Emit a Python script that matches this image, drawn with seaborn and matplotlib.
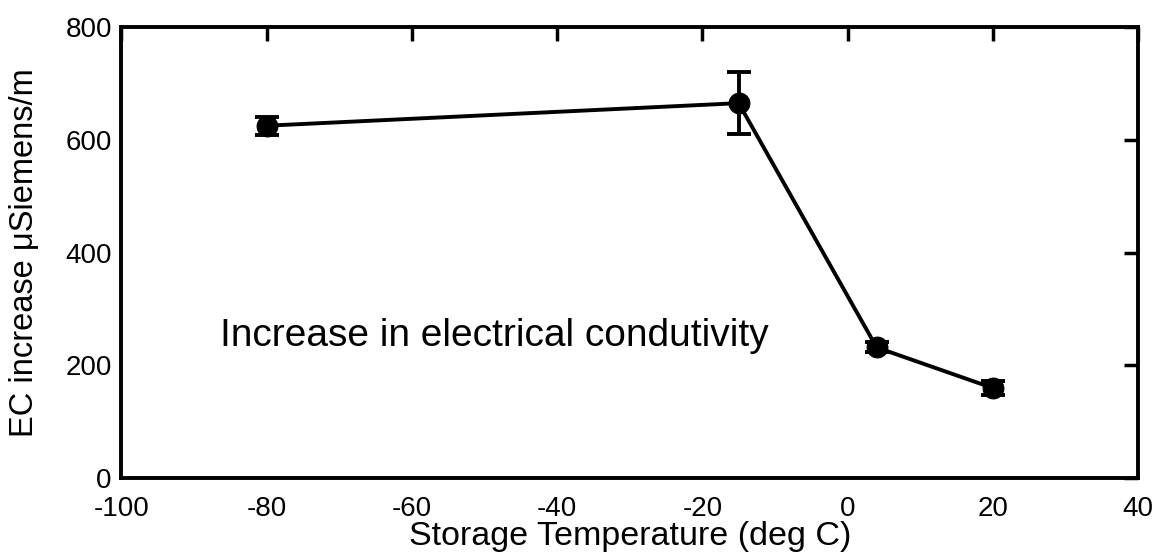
import matplotlib
matplotlib.use("Agg")
import matplotlib.pyplot as plt
import seaborn as sns
import pandas as pd

temps = [-80, -15, 4, 20]
ec_increase = [625, 665, 232, 160]
ec_error = [16, 55, 9, 13]
x_ticks = [-100, -80, -60, -40, -20, 0, 20, 40]
y_ticks = [0, 200, 400, 600, 800]

sns.set_theme(style="white")
plt.rcParams['font.family'] = ['Liberation Sans', 'DejaVu Sans']
plt.rcParams['axes.unicode_minus'] = False

df = pd.DataFrame({"temp": temps, "ec": ec_increase, "err": ec_error})

fig = plt.figure(figsize=(11.57, 5.59), dpi=100)
ax = fig.add_axes([0.105, 0.1444, 0.8786, 0.8073])

ax.errorbar(df["temp"], df["ec"], yerr=df["err"], fmt="none", ecolor="black",
            elinewidth=2.8, capsize=8.5, capthick=2.8, zorder=2)
sns.lineplot(data=df, x="temp", y="ec", ax=ax, color="black", linewidth=2.8,
             marker="o", markersize=15, markeredgecolor="black",
             markerfacecolor="black", zorder=3)

ax.set_xlim(-100, 40)
ax.set_ylim(0, 800)
ax.set_xticks(x_ticks)
ax.set_yticks(y_ticks)
ax.tick_params(direction="in", length=10, width=2.5, top=True, right=True,
               labelsize=20, colors="black", labelcolor="black", pad=7)
ax.tick_params(axis="x", pad=13)
for s in ax.spines.values():
    s.set_linewidth(2.8)
    s.set_color("black")
ax.set_xlabel("Storage Temperature (deg C)", fontsize=24.5, labelpad=-1,
              color="black")
ax.set_ylabel("EC increase μSiemens/m", fontsize=23.5, labelpad=18,
              color="black")
ax.text(-86.5, 252, "Increase in electrical condutivity", fontsize=28,
        va="center", ha="left", color="black")

fig.savefig("out.png", dpi=100)
